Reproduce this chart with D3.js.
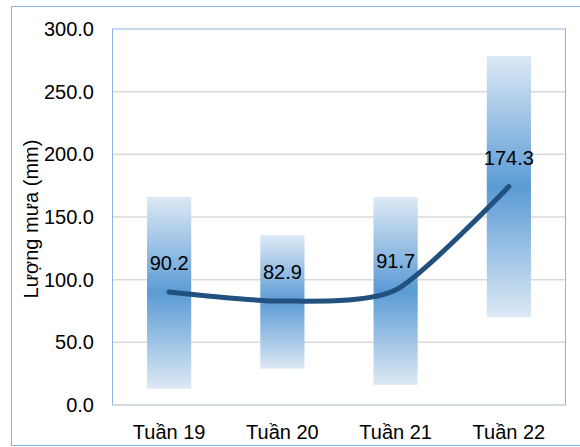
<!DOCTYPE html>
<html><head><meta charset="utf-8">
<script src="https://cdn.jsdelivr.net/npm/d3@7"></script>
<style>body{margin:0;background:#fff}svg{display:block;font-family:"Liberation Sans",Arial,sans-serif}</style>
</head><body><svg id="c" width="580" height="447"></svg>
<script>
const categories = ["Tuần 19","Tuần 20","Tuần 21","Tuần 22"];
const rangeMin = [13, 29, 16, 70];
const rangeMax = [166, 135.5, 166, 278.5];
const values = [90.2, 82.9, 91.7, 174.3];
const yTicks = [0,50,100,150,200,250,300];
const yTitle = "Lượng mưa (mm)";

const svg = d3.select("#c");
const L = 112.5, R = 565.5, T = 29, B = 405;
const FS = 20;
// outer border
svg.append("rect").attr("x",11.5).attr("y",6.5).attr("width",580).attr("height",439)
  .attr("fill","#fff").attr("stroke","#8db3e2").attr("stroke-width",1);

const x = d3.scaleBand().domain(categories).range([L,R]).paddingInner(0.61).paddingOuter(0.305);
const y = d3.scaleLinear().domain([0,300]).range([B,T]);

const defs = svg.append("defs");
const g = defs.append("linearGradient").attr("id","bg").attr("x1",0).attr("y1",0).attr("x2",0).attr("y2",1);
g.append("stop").attr("offset","0").attr("stop-color","#dde9f5");
g.append("stop").attr("offset","0.5").attr("stop-color","#5b9bd5");
g.append("stop").attr("offset","1").attr("stop-color","#dde9f5");

// gridlines
svg.append("g").selectAll("line").data(yTicks.filter(d=>d>0&&d<300)).join("line")
  .attr("x1",L).attr("x2",R).attr("y1",d=>y(d)).attr("y2",d=>y(d))
  .attr("stroke","#d9d9d9").attr("stroke-width",1.5);

// bars
svg.append("g").selectAll("rect").data(categories).join("rect")
  .attr("x",d=>x(d)).attr("width",x.bandwidth())
  .attr("y",(d,i)=>y(rangeMax[i])).attr("height",(d,i)=>y(rangeMin[i])-y(rangeMax[i]))
  .attr("fill","url(#bg)");

// plot border
svg.append("rect").attr("x",L).attr("y",T).attr("width",R-L).attr("height",B-T)
  .attr("fill","none").attr("stroke","#8db3e2").attr("stroke-width",1);
svg.append("line").attr("x1",L).attr("x2",R).attr("y1",B).attr("y2",B).attr("stroke","#d9d9d9").attr("stroke-width",1.5);

// y axis
const ya = svg.append("g").attr("transform",`translate(${L},0)`)
  .call(d3.axisLeft(y).tickValues(yTicks).tickFormat(d3.format(".1f")).tickSize(0).tickPadding(18.5));
ya.select(".domain").remove();
ya.selectAll("text").attr("font-size",FS).attr("fill","#000").attr("font-family","Liberation Sans, Arial, sans-serif");

// x axis
const xa = svg.append("g").attr("transform",`translate(0,${B})`)
  .call(d3.axisBottom(x).tickSize(0).tickPadding(20));
xa.select(".domain").remove();
xa.selectAll("text").attr("font-size",FS).attr("fill","#000").attr("font-family","Liberation Sans, Arial, sans-serif");

// y title
svg.append("text").attr("transform","translate(38,219) rotate(-90)").attr("text-anchor","middle")
  .attr("font-size",FS).attr("fill","#000").text(yTitle);

// line
const cx = d=>x(d)+x.bandwidth()/2;
const line = d3.line().x((d,i)=>cx(categories[i])).y(d=>y(d)).curve(d3.curveCardinal.tension(0.3));
svg.append("path").datum(values).attr("d",line).attr("fill","none")
  .attr("stroke","#22507f").attr("stroke-width",5).attr("stroke-linecap","round");

// labels
svg.append("g").selectAll("text").data(values).join("text")
  .attr("x",(d,i)=>cx(categories[i])).attr("y",d=>y(d)-22)
  .attr("text-anchor","middle").attr("font-size",FS).attr("fill","#000")
  .text(d=>d3.format(".1f")(d));
</script></body></html>
